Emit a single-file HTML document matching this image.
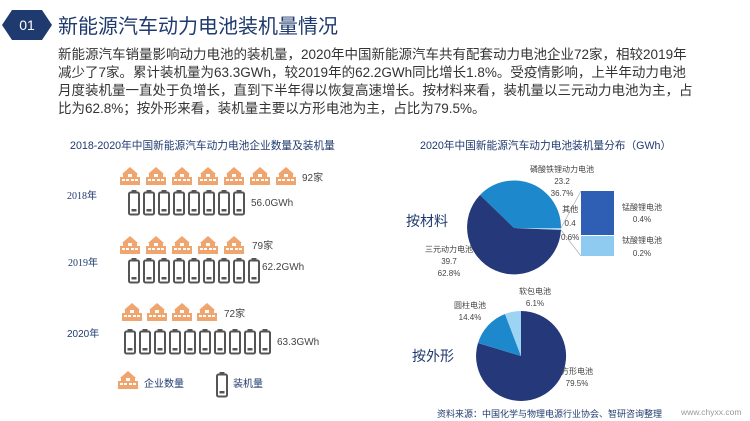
<!DOCTYPE html>
<html><head><meta charset="utf-8"><style>
body{margin:0;width:750px;height:421px;background:#fff;overflow:hidden;position:relative;font-family:"Liberation Sans","Noto Sans CJK SC",sans-serif;}
.a{position:absolute;white-space:nowrap;}
</style></head><body>
<svg width="750" height="421" style="position:absolute;left:0;top:0">
<defs>
<g id="h"><path d="M2 8 L10 1 L18 8 Z" fill="#f0a46e"/><rect x="3" y="7" width="14" height="12" fill="#f0a46e"/><rect x="0" y="11" width="20" height="8" fill="#f0a46e"/>
<rect x="2" y="13" width="3" height="2" fill="#fff"/><rect x="6" y="13" width="3" height="2" fill="#fff"/><rect x="11" y="13" width="3" height="2" fill="#fff"/><rect x="15" y="13" width="3" height="2" fill="#fff"/><rect x="8" y="8" width="4" height="3" fill="#fff"/></g>
<g id="b"><rect x="3.5" y="0" width="5" height="3" fill="#555"/><rect x="1" y="2.5" width="10" height="22" rx="1.5" fill="none" stroke="#555" stroke-width="2"/><rect x="3.5" y="19" width="5" height="2.5" fill="#555"/></g>
</defs>
<polygon points="12,10 42,10 52,25 42,40 12,40 2,25" fill="#1f3a6e"/>
<text x="27" y="30" fill="#fff" font-size="14" text-anchor="middle" font-family="Liberation Sans">01</text>
<g><use href="#h" x="120" y="166"/><use href="#h" x="146" y="166"/><use href="#h" x="172" y="166"/><use href="#h" x="198" y="166"/><use href="#h" x="224" y="166"/><use href="#h" x="250" y="166"/><use href="#h" x="276" y="166"/></g>
<g><use href="#b" x="128" y="190"/><use href="#b" x="143" y="190"/><use href="#b" x="158" y="190"/><use href="#b" x="173" y="190"/><use href="#b" x="188" y="190"/><use href="#b" x="203" y="190"/><use href="#b" x="218" y="190"/><use href="#b" x="233" y="190"/></g>
<g><use href="#h" x="120" y="235"/><use href="#h" x="146" y="235"/><use href="#h" x="172" y="235"/><use href="#h" x="198" y="235"/><use href="#h" x="224" y="235"/></g>
<g><use href="#b" x="128" y="258"/><use href="#b" x="143" y="258"/><use href="#b" x="158" y="258"/><use href="#b" x="173" y="258"/><use href="#b" x="188" y="258"/><use href="#b" x="203" y="258"/><use href="#b" x="218" y="258"/><use href="#b" x="233" y="258"/><use href="#b" x="248" y="258"/></g>
<g><use href="#h" x="122" y="302"/><use href="#h" x="147" y="302"/><use href="#h" x="172" y="302"/><use href="#h" x="197" y="302"/></g>
<g><use href="#b" x="124" y="329"/><use href="#b" x="139" y="329"/><use href="#b" x="154" y="329"/><use href="#b" x="169" y="329"/><use href="#b" x="184" y="329"/><use href="#b" x="199" y="329"/><use href="#b" x="214" y="329"/><use href="#b" x="229" y="329"/><use href="#b" x="244" y="329"/><use href="#b" x="259" y="329"/></g>
<use href="#h" x="118" y="370"/><use href="#b" x="216" y="372"/>
<path d="M514 228 L480 195 A47 47 0 0 1 561 228 Z" fill="#1e88cc"/>
<path d="M514 228 L561 228 A47 47 0 0 1 561 230 Z" fill="#9ed4f3"/>
<path d="M514 228 L561 230 A47 47 0 1 1 480 195 Z" fill="#25397a"/>
<line x1="561" y1="228" x2="581" y2="191" stroke="#aaa" stroke-width="0.7"/>
<line x1="561" y1="230" x2="581" y2="256" stroke="#aaa" stroke-width="0.7"/>
<rect x="581" y="191" width="33" height="44" fill="#2f5eb5"/>
<rect x="581" y="236" width="33" height="20" fill="#8fcaf0"/>
<path d="M521 356 L521 311 A45 45 0 1 1 478 343 Z" fill="#25397a"/>
<path d="M521 356 L478 343 A45 45 0 0 1 505 314 Z" fill="#1e88cc"/>
<path d="M521 356 L505 314 A45 45 0 0 1 521 311 Z" fill="#9ed4f3"/>
</svg>
<div class="a" style="left:58px;top:10px;font-size:20px;color:#1f3a6e">新能源汽车动力电池装机量情况</div>
<div class="a" style="left:58px;top:46px;font-size:13.5px;line-height:18px;color:#333">新能源汽车销量影响动力电池的装机量，2020年中国新能源汽车共有配套动力电池企业72家，相较2019年<br>减少了7家。累计装机量为63.3GWh，较2019年的62.2GWh同比增长1.8%。受疫情影响，上半年动力电池<br>月度装机量一直处于负增长，直到下半年得以恢复高速增长。按材料来看，装机量以三元动力电池为主，占<br>比为62.8%；按外形来看，装机量主要以方形电池为主，占比为79.5%。</div>
<div class="a" style="left:70px;top:138px;font-size:10.7px;color:#1f3a6e">2018-2020年中国新能源汽车动力电池企业数量及装机量</div>
<div class="a" style="left:67px;top:187px;font-size:10px;color:#1f3a6e;font-family:'Liberation Serif','Noto Sans CJK SC',serif">2018年</div>
<div class="a" style="left:68px;top:254px;font-size:10px;color:#1f3a6e;font-family:'Liberation Serif','Noto Sans CJK SC',serif">2019年</div>
<div class="a" style="left:67px;top:325px;font-size:10px;color:#1f3a6e">2020年</div>
<div class="a" style="left:302px;top:169px;font-size:10px;color:#444">92家</div>
<div class="a" style="left:251px;top:198px;font-size:10px;color:#444">56.0GWh</div>
<div class="a" style="left:252px;top:237px;font-size:10px;color:#444">79家</div>
<div class="a" style="left:262px;top:262px;font-size:10px;color:#444">62.2GWh</div>
<div class="a" style="left:224px;top:305px;font-size:10px;color:#444">72家</div>
<div class="a" style="left:277px;top:337px;font-size:10px;color:#444">63.3GWh</div>
<div class="a" style="left:144px;top:375px;font-size:10px;color:#1f3a6e">企业数量</div>
<div class="a" style="left:233px;top:375px;font-size:10px;color:#1f3a6e">装机量</div>
<div class="a" style="left:420px;top:138px;font-size:10.7px;color:#1f3a6e">2020年中国新能源汽车动力电池装机量分布（GWh）</div>
<div class="a" style="left:406px;top:211px;font-size:14px;color:#1f3a6e">按材料</div>
<div class="a" style="left:412px;top:346px;font-size:14px;color:#1f3a6e">按外形</div>
<div class="a" style="left:530px;top:164px;font-size:8px;line-height:12px;color:#444;text-align:center">磷酸铁锂动力电池<br>23.2<br>36.7%</div>
<div class="a" style="left:561px;top:203px;font-size:8px;line-height:14px;color:#444;text-align:center">其他<br>0.4<br>0.6%</div>
<div class="a" style="left:622px;top:202px;font-size:8px;line-height:12px;color:#444;text-align:center">锰酸锂电池<br>0.4%</div>
<div class="a" style="left:622px;top:234px;font-size:8px;line-height:13px;color:#444;text-align:center">钛酸锂电池<br>0.2%</div>
<div class="a" style="left:425px;top:244px;font-size:8px;line-height:12px;color:#444;text-align:center">三元动力电池<br>39.7<br>62.8%</div>
<div class="a" style="left:519px;top:286px;font-size:8px;line-height:12px;color:#444;text-align:center">软包电池<br>6.1%</div>
<div class="a" style="left:454px;top:300px;font-size:8px;line-height:12px;color:#444;text-align:center">圆柱电池<br>14.4%</div>
<div class="a" style="left:561px;top:366px;font-size:8px;line-height:12px;color:#444;text-align:center">方形电池<br>79.5%</div>
<div class="a" style="left:437px;top:407px;font-size:9px;color:#1f3a6e">资料来源：中国化学与物理电源行业协会、智研咨询整理</div>
<div class="a" style="left:681px;top:407px;font-size:8.5px;color:#999">www.chyxx.com</div>
</body></html>
